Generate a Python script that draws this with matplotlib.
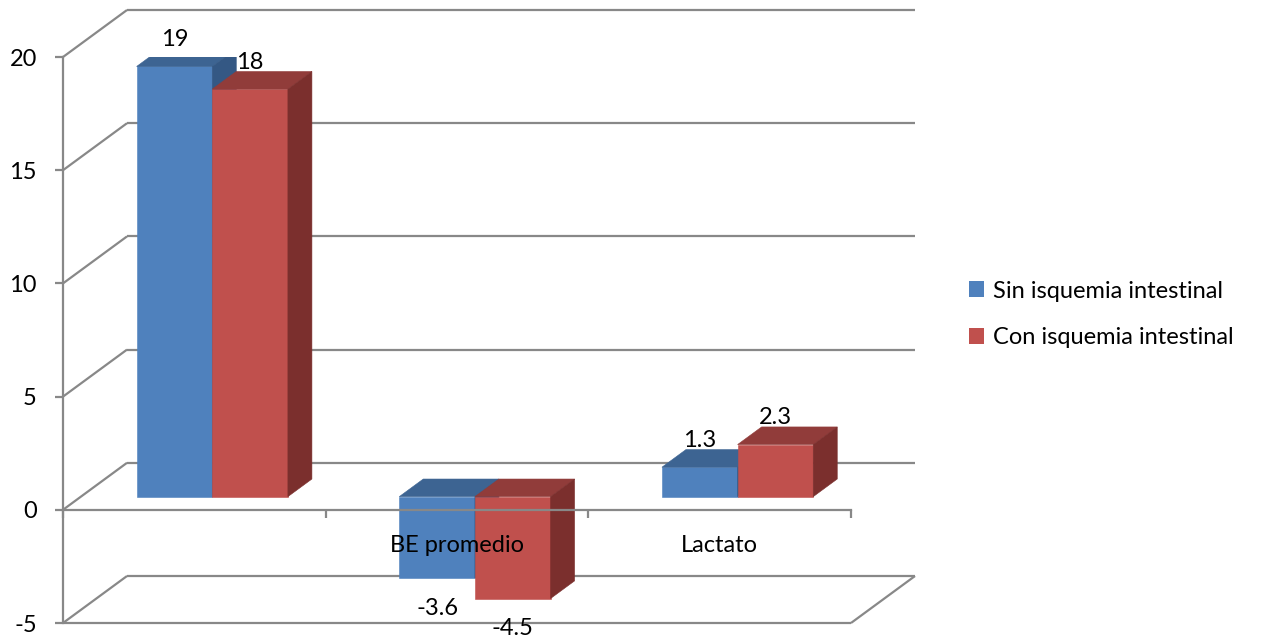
import matplotlib
matplotlib.use("Agg")
import matplotlib.pyplot as plt
from matplotlib.patches import Polygon, Patch

categories = ["", "BE promedio", "Lactato"]
sin_isquemia = [19, -3.6, 1.3]
con_isquemia = [18, -4.5, 2.3]
series_names = ["Sin isquemia intestinal", "Con isquemia intestinal"]
y_ticks = [-5, 0, 5, 10, 15, 20]

plt.rcParams["font.family"] = ["Lato", "DejaVu Sans"]
plt.rcParams["axes.unicode_minus"] = False
FS = 17
GRID = "#888888"
BLUE = ("#4F81BD", "#3D6492", "#345884")   # front, top, side
RED = ("#C0504D", "#913C3A", "#7B2F2D")

DX, DY = 0.2437, 2.076          # full floor depth, in category / value units
BAR_D0, BAR_DD = 0.28, 0.375     # where the bars start in depth, and how deep they are
BAR_W = 0.288

fig = plt.figure(figsize=(12.61, 6.40), dpi=100)
ax = fig.add_axes([63 / 1261, 17 / 640, 788 / 1261, 566 / 640])
ax.set_xlim(0, 3)
ax.set_ylim(-5, 20)

# back wall, side wall and floor lines
kw = dict(color=GRID, lw=1.6, clip_on=False, zorder=0.5, solid_capstyle="butt")
for v in y_ticks:
    ax.plot([DX, 3 + DX], [v + DY, v + DY], **kw)
    ax.plot([0, DX], [v, v + DY], **kw)
ax.plot([0, 3], [-5, -5], **kw)
ax.plot([3, 3 + DX], [-5, -5 + DY], **kw)


def box(x0, v, colors):
    front, top, side = colors
    ox, oy = BAR_D0 * DX, BAR_D0 * DY
    ddx, ddy = BAR_DD * DX, BAR_DD * DY
    lo, hi = min(v, 0), max(v, 0)
    xa, xb = x0 + ox, x0 + BAR_W + ox
    ya, yb = lo + oy, hi + oy
    faces = [
        ([(xa, ya), (xb, ya), (xb, yb), (xa, yb)], front),
        ([(xa, yb), (xb, yb), (xb + ddx, yb + ddy), (xa + ddx, yb + ddy)], top),
        ([(xb, ya), (xb + ddx, ya + ddy), (xb + ddx, yb + ddy), (xb, yb)], side),
    ]
    for pts, c in faces:
        ax.add_patch(Polygon(pts, closed=True, fc=c, ec=c, lw=0.4, zorder=1))
    # value label above the top / below the bottom of the front face
    cx = (xa + xb) / 2
    if v >= 0:
        ax.annotate(f"{v:g}", (cx, yb), xytext=(0, 19.5), textcoords="offset points",
                    ha="center", va="center", fontsize=FS, zorder=4, annotation_clip=False)
    else:
        ax.annotate(f"{v:g}", (cx, ya), xytext=(0, -21.5), textcoords="offset points",
                    ha="center", va="center", fontsize=FS, zorder=4, annotation_clip=False)


for i in range(len(categories)):
    left = i + 0.5 - BAR_W
    box(left, sin_isquemia[i], BLUE)
    box(left + BAR_W, con_isquemia[i], RED)

# axes: value axis on the left, category axis along zero
for s in ("top", "right"):
    ax.spines[s].set_visible(False)
for s in ("left", "bottom"):
    ax.spines[s].set_color(GRID)
    ax.spines[s].set_linewidth(1.6)
    ax.spines[s].set_zorder(3)
ax.spines["bottom"].set_position(("data", 0))

ax.set_yticks(y_ticks)
ax.tick_params(axis="y", length=5.8, width=1.6, color=GRID, pad=13, labelsize=FS)
ax.set_xticks([0, 1, 2, 3])
ax.set_xticklabels([])
ax.set_xticks([0.5, 1.5, 2.5], minor=True)
ax.set_xticklabels(categories, minor=True)
ax.tick_params(axis="x", which="major", length=5.8, width=1.6, color=GRID)
ax.tick_params(axis="x", which="minor", length=0, pad=18.5, labelsize=FS)
for t in ax.get_xticklabels(minor=True):
    t.set_zorder(5)

handles = [Patch(fc=BLUE[0]), Patch(fc=RED[0])]
fig.legend(handles, series_names, loc="center left", bbox_to_anchor=(969 / 1261, 1 - 314.5 / 640),
           frameon=False, fontsize=FS, handlelength=0.65, handleheight=0.65,
           handletextpad=0.35, labelspacing=1.1, borderpad=0, borderaxespad=0)

fig.savefig("out.png", dpi=100)
